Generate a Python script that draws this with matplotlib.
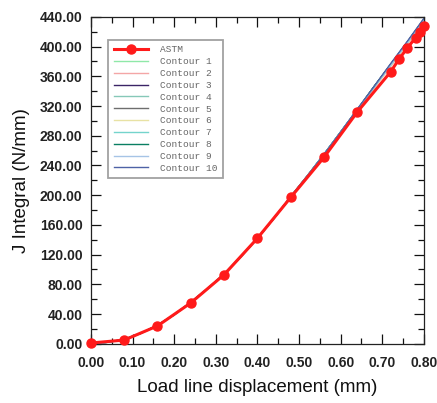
import matplotlib
matplotlib.use("Agg")
import matplotlib.pyplot as plt
from matplotlib.ticker import MultipleLocator, FormatStrFormatter

# ASTM data
astm_x = [0.00, 0.08, 0.16, 0.24, 0.32, 0.40, 0.48, 0.56, 0.64, 0.72, 0.74, 0.76, 0.78, 0.79, 0.80]
astm_y = [1, 5, 24, 55, 93, 142, 197, 251, 312, 366, 383, 398, 412, 420, 428]

# Contour data (J integral from domain contours)
contour_x = [0.00, 0.04, 0.08, 0.12, 0.16, 0.20, 0.24, 0.28, 0.32, 0.36, 0.40,
             0.44, 0.48, 0.52, 0.56, 0.60, 0.64, 0.68, 0.72, 0.76, 0.80]
contour_1 = [0, 2, 6, 14, 25, 39, 56, 74, 94, 117, 142, 169, 198, 226, 255, 285, 315, 346, 375, 405, 436]
contour_2 = [0, 2, 6, 14, 25, 39, 56, 74, 94, 117, 142, 169, 197, 225, 254, 284, 314, 344, 373, 403, 433]
contour_3 = [0, 2, 6, 14, 25, 39, 56, 74, 94, 117, 142, 169, 198, 226, 255, 285, 315, 346, 376, 406, 437]
contour_4 = [0, 2, 6, 14, 25, 39, 56, 74, 94, 117, 142, 169, 198, 226, 255, 285, 315, 345, 375, 405, 436]
contour_5 = [0, 2, 6, 14, 25, 39, 56, 74, 94, 117, 142, 169, 198, 226, 255, 285, 315, 346, 376, 406, 437]
contour_6 = [0, 2, 6, 14, 25, 39, 56, 74, 94, 117, 142, 169, 197, 225, 254, 284, 314, 344, 374, 404, 434]
contour_7 = [0, 2, 6, 14, 25, 39, 56, 74, 94, 117, 142, 169, 198, 226, 255, 285, 315, 345, 375, 405, 436]
contour_8 = [0, 2, 6, 14, 25, 39, 56, 74, 94, 117, 142, 169, 198, 226, 255, 285, 315, 346, 376, 406, 437]
contour_9 = [0, 2, 6, 14, 25, 39, 56, 74, 94, 117, 142, 169, 198, 226, 255, 285, 315, 345, 375, 405, 436]
contour_10 = [0, 2, 6, 14, 25, 39, 56, 74, 94, 117, 142, 169, 198, 226, 255, 285, 316, 346, 377, 407, 438]

contour_series = [contour_1, contour_2, contour_3, contour_4, contour_5,
                  contour_6, contour_7, contour_8, contour_9, contour_10]
contour_labels = ["Contour 1", "Contour 2", "Contour 3", "Contour 4", "Contour 5",
                  "Contour 6", "Contour 7", "Contour 8", "Contour 9", "Contour 10"]
contour_colors = ["#8fe8a8", "#f4a6a6", "#3b2466", "#86c8b8", "#6e6e6e",
                  "#e8e2a4", "#74d4cc", "#0a7f62", "#a6c4e6", "#4e62a6"]

x_ticks = [0.00, 0.10, 0.20, 0.30, 0.40, 0.50, 0.60, 0.70, 0.80]
y_ticks = [0, 40, 80, 120, 160, 200, 240, 280, 320, 360, 400, 440]

fig = plt.figure(figsize=(4.37, 4.03), dpi=100)
ax = fig.add_axes([0.208, 0.147, 0.762, 0.811])

handles = []
h, = ax.plot(astm_x, astm_y, color="#ff1a1a", lw=2.2, marker="o", ms=6.5,
             clip_on=False, zorder=3, label="ASTM")
handles.append(h)
for ys, lab, col in zip(contour_series, contour_labels, contour_colors):
    hh, = ax.plot(contour_x, ys, color=col, lw=1.0, label=lab, zorder=2)
    handles.append(hh)

ax.set_xlim(0, 0.80)
ax.set_ylim(0, 440)
ax.set_xticks(x_ticks)
ax.set_yticks(y_ticks)
ax.xaxis.set_major_formatter(FormatStrFormatter("%.2f"))
ax.yaxis.set_major_formatter(FormatStrFormatter("%.2f"))
ax.xaxis.set_minor_locator(MultipleLocator(0.05))
ax.yaxis.set_minor_locator(MultipleLocator(20))
ax.tick_params(which="both", direction="in", top=True, right=True, width=0.9,
               colors="#111111")
ax.tick_params(which="major", length=7, labelsize=10)
ax.tick_params(which="minor", length=4)
ax.tick_params(axis="x", which="major", pad=9)
ax.tick_params(axis="y", which="major", pad=6)
for lbl in ax.get_xticklabels() + ax.get_yticklabels():
    lbl.set_fontfamily("Liberation Sans")
    lbl.set_fontweight("bold")
    lbl.set_color("#222222")
for sp in ax.spines.values():
    sp.set_linewidth(0.9)
    sp.set_color("#222222")

ax.set_xlabel("Load line displacement (mm)", fontsize=13.5, family="Liberation Sans",
              color="#111111", labelpad=6)
ax.set_ylabel("J Integral (N/mm)", fontsize=13.5, family="Liberation Sans",
              color="#111111", labelpad=7)

leg = ax.legend(handles=handles, loc="upper left", bbox_to_anchor=(0.051, 0.93),
                prop={"family": "Liberation Mono", "size": 6.8},
                frameon=True, fancybox=False, edgecolor="#8a8a8a",
                handlelength=3.7, labelspacing=0.3, borderpad=0.6,
                handletextpad=1.2, borderaxespad=0)
leg.get_frame().set_linewidth(1.3)
for t in leg.get_texts():
    t.set_color("#666666")

fig.savefig("out.png", dpi=100)
